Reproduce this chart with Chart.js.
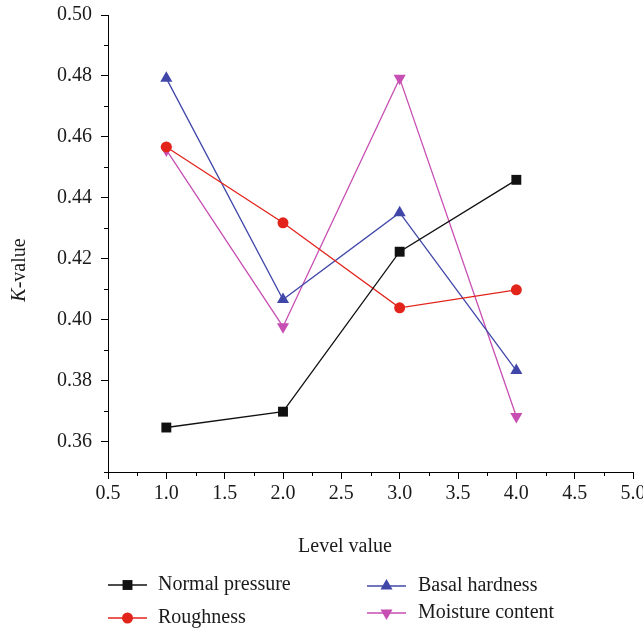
<!DOCTYPE html>
<html>
<head>
<meta charset="utf-8">
<script src="https://cdn.jsdelivr.net/npm/chart.js@4/dist/chart.umd.min.js"></script>
<style>
  html, body { margin:0; padding:0; background:#fff; }
  #wrap { width:643px; height:631px; position:relative; }
</style>
</head>
<body>
<div id="wrap"><canvas id="kChart" width="643" height="631"></canvas></div>
<script>
"use strict";
const levels         = [1, 2, 3, 4];
const normalPressure = [0.3646, 0.3698, 0.4223, 0.4459];
const roughness      = [0.4567, 0.4318, 0.4039, 0.4098];
const basalHardness  = [0.4792, 0.4066, 0.4351, 0.3833];
const moisture       = [0.4557, 0.3977, 0.4792, 0.3682];
const seriesNames    = ["Normal pressure", "Roughness", "Basal hardness", "Moisture content"];

const BLACK = "#111111", RED = "#e2241b", BLUE = "#4047a9", MAGENTA = "#c74fb3";
const FONT = "'Liberation Serif', 'DejaVu Serif', serif";
const FS = 20;

const pts = arr => levels.map((x, i) => ({ x, y: arr[i] }));
function ds(label, arr, color, style, radius, rotation) {
  return { label, data: pts(arr), borderColor: color, backgroundColor: color,
    borderWidth: 1.3, pointStyle: style, pointRadius: radius, pointHoverRadius: radius,
    pointRotation: rotation || 0, pointBorderWidth: 0, tension: 0 };
}

// legend, axis titles and minor ticks drawn by hand
const decor = {
  id: "decor",
  afterDraw(chart) {
    const ctx = chart.ctx;
    const xs = chart.scales.x, ys = chart.scales.y;
    ctx.save();
    // minor ticks
    ctx.strokeStyle = "#000"; ctx.lineWidth = 1;
    ctx.beginPath();
    for (let v = 0.75; v < 5; v += 0.5) {
      const px = Math.round(xs.getPixelForValue(v)) + 0.5;
      ctx.moveTo(px, xs.top); ctx.lineTo(px, xs.top + 4);
    }
    for (let k = 35; k <= 49; k += 2) {
      const py = Math.round(ys.getPixelForValue(k / 100)) + 0.5;
      ctx.moveTo(ys.right, py); ctx.lineTo(ys.right - 4, py);
    }
    ctx.stroke();

    // x title
    ctx.fillStyle = "#1a1a1a";
    ctx.font = FS + "px " + FONT;
    ctx.textAlign = "center"; ctx.textBaseline = "middle";
    ctx.fillText("Level value", 345, 547);

    // y title with italic K
    ctx.save();
    ctx.translate(20, 270);
    ctx.rotate(-Math.PI / 2);
    ctx.font = "italic " + FS + "px " + FONT;
    const wK = ctx.measureText("K").width;
    ctx.font = FS + "px " + FONT;
    const wRest = ctx.measureText("-value").width;
    const x0 = -(wK + wRest) / 2;
    ctx.textAlign = "left";
    ctx.font = "italic " + FS + "px " + FONT;
    ctx.fillText("K", x0, 0);
    ctx.font = FS + "px " + FONT;
    ctx.fillText("-value", x0 + wK, 0);
    ctx.restore();

    // legend
    const items = [
      { i: 0, lx: 108, tx: 158, y: 585 },
      { i: 1, lx: 108, tx: 158, y: 618 },
      { i: 2, lx: 367, tx: 418, y: 586 },
      { i: 3, lx: 367, tx: 418, y: 613 },
    ];
    items.forEach(it => {
      const d = chart.data.datasets[it.i];
      ctx.strokeStyle = d.borderColor; ctx.lineWidth = 1.3;
      ctx.beginPath(); ctx.moveTo(it.lx, it.y); ctx.lineTo(it.lx + 39, it.y); ctx.stroke();
      ctx.fillStyle = d.backgroundColor;
      Chart.helpers.drawPoint(ctx, { pointStyle: d.pointStyle, radius: d.pointRadius,
        rotation: d.pointRotation, borderWidth: 0 }, it.lx + 19.5, it.y);
      ctx.fillStyle = "#1a1a1a";
      ctx.font = FS + "px " + FONT;
      ctx.textAlign = "left"; ctx.textBaseline = "middle";
      ctx.fillText(seriesNames[it.i], it.tx, it.y);
    });
    ctx.restore();
  }
};

const isMajorY = v => Math.round(v * 100) % 2 === 0;
const isMajorX = v => Math.abs(Math.round(v * 2) - v * 2) < 1e-6;

new Chart(document.getElementById("kChart"), {
  type: "line",
  data: {
    datasets: [
      ds(seriesNames[0], normalPressure, BLACK,   "rect",     7),
      ds(seriesNames[1], roughness,      RED,     "circle",   5.5),
      ds(seriesNames[2], basalHardness,  BLUE,    "triangle", 7),
      ds(seriesNames[3], moisture,       MAGENTA, "triangle", 7, 180),
    ]
  },
  options: {
    responsive: false,
    animation: false,
    layout: { padding: { top: 15, right: 10, left: 0, bottom: 0 } },
    plugins: { legend: { display: false }, tooltip: { enabled: false } },
    scales: {
      x: {
        type: "linear", min: 0.5, max: 5.0,
        afterFit(s) { s.height = 159; s.paddingLeft = 0; s.paddingRight = 0; },
        border: { display: true, color: "#000", width: 1 },
        grid: { drawOnChartArea: false, drawTicks: true, tickLength: 7,
          tickColor: c => isMajorX(c.tick.value) ? "#000" : "rgba(0,0,0,0)" },
        ticks: { stepSize: 0.25, autoSkip: false, maxRotation: 0, padding: 3, color: "#1a1a1a",
          font: { family: FONT, size: FS },
          callback: v => isMajorX(v) ? v.toFixed(1) : "" }
      },
      y: {
        min: 0.35, max: 0.50,
        afterFit(s) { s.width = 108; s.paddingTop = 0; s.paddingBottom = 0; },
        border: { display: true, color: "#000", width: 1 },
        grid: { drawOnChartArea: false, drawTicks: true, tickLength: 7,
          tickColor: c => isMajorY(c.tick.value) ? "#000" : "rgba(0,0,0,0)" },
        ticks: { stepSize: 0.01, autoSkip: false, padding: 9, color: "#1a1a1a",
          font: { family: FONT, size: FS },
          callback: v => isMajorY(v) ? v.toFixed(2) : "" }
      }
    }
  },
  plugins: [decor]
});
</script>
</body>
</html>
